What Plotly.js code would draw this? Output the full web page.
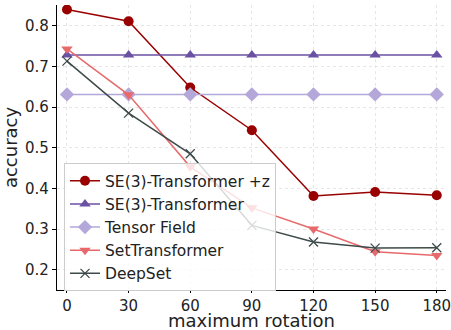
<!DOCTYPE html>
<html>
<head>
<meta charset="utf-8">
<script src="https://cdn.plot.ly/plotly-3.0.1.min.js"></script>
<style>html,body{margin:0;padding:0;background:#fff;}#chart{width:451px;height:330px;}</style>
</head>
<body>
<div id="chart"></div>
<script>
const rotations = [0, 30, 60, 90, 120, 150, 180];
const se3z = [0.840, 0.811, 0.648, 0.543, 0.381, 0.391, 0.383];
const se3 = [0.728, 0.728, 0.728, 0.728, 0.728, 0.728, 0.728];
const tensorField = [0.631, 0.631, 0.631, 0.631, 0.631, 0.631, 0.631];
const setTransformer = [0.743, 0.630, 0.453, 0.352, 0.300, 0.244, 0.235];
const deepSet = [0.713, 0.585, 0.485, 0.309, 0.268, 0.253, 0.254];
const seriesNames = ["SE(3)-Transformer +z", "SE(3)-Transformer", "Tensor Field", "SetTransformer", "DeepSet"];
const yTicks = [0.2, 0.3, 0.4, 0.5, 0.6, 0.7, 0.8];

const styles = [
  {color: "#990000", symbol: "circle", size: 10},
  {color: "#6a51a3", symbol: "triangle-up", size: 10},
  {color: "#b4a7d9", symbol: "diamond", size: 11},
  {color: "#e8696b", symbol: "triangle-down", size: 10},
  {color: "#3f4a4a", symbol: "x-thin-open", size: 9}
];
const allData = [se3z, se3, tensorField, setTransformer, deepSet];
const traces = allData.map((ys, i) => ({
  x: rotations, y: ys, name: seriesNames[i], type: "scatter", mode: "lines+markers",
  line: {color: styles[i].color, width: 1.5},
  marker: {color: styles[i].color, symbol: styles[i].symbol, size: styles[i].size,
           line: {color: styles[i].color, width: styles[i].symbol === "x-thin-open" ? 1.3 : 0}}
}));

const layout = {
  width: 451, height: 330,
  margin: {l: 57, r: 5, t: 5, b: 40},
  paper_bgcolor: "#fff", plot_bgcolor: "#fff",
  font: {family: "DejaVu Sans", color: "#222"},
  showlegend: true,
  legend: {x: 0.018, y: 0.445, xanchor: "left", yanchor: "top",
           bgcolor: "rgba(255,255,255,0.8)", bordercolor: "#cccccc", borderwidth: 1,
           font: {family: "DejaVu Sans", size: 15.5, color: "#222"}},
  xaxis: {range: [-4.86, 184.5], tickvals: rotations, ticktext: rotations.map(String),
          showline: true, linecolor: "#000", linewidth: 1.2, zeroline: false,
          ticks: "outside", ticklen: 2, tickcolor: "#000", ticklabeloverflow: "allow",
          showgrid: true, gridcolor: "#e6e6e6", griddash: "dot", gridwidth: 1,
          tickfont: {size: 15, family: "DejaVu Sans", color: "#222"}},
  yaxis: {range: [0.15, 0.851], tickvals: yTicks, ticktext: yTicks.map(v => v.toFixed(1)),
          showline: true, linecolor: "#000", linewidth: 1.2, zeroline: false,
          ticks: "outside", ticklen: 4, tickcolor: "#000",
          showgrid: true, gridcolor: "#e6e6e6", griddash: "dot", gridwidth: 1,
          tickfont: {size: 15, family: "DejaVu Sans", color: "#222"},
          title: {text: "accuracy", font: {size: 18, family: "DejaVu Sans", color: "#222"}, standoff: 6}},
  annotations: [{text: "maximum rotation", xref: "paper", yref: "paper", x: 0.5, y: -0.108,
                 xanchor: "center", yanchor: "middle", showarrow: false,
                 font: {size: 18, family: "DejaVu Sans", color: "#222"}}]
};
Plotly.newPlot("chart", traces, layout, {displayModeBar: false, staticPlot: true});
</script>
</body>
</html>
